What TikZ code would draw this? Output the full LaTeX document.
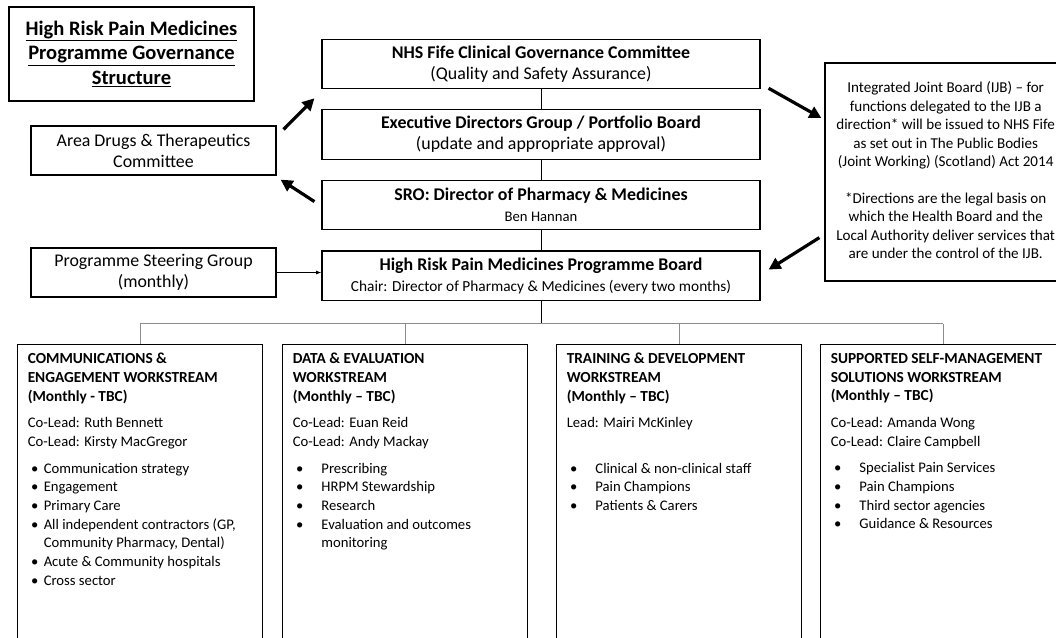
\documentclass[tikz,border=0pt]{standalone}
\usepackage{fontspec}
\setmainfont{Carlito}
\usetikzlibrary{arrows.meta,positioning,calc}

\newcommand{\bul}{\hspace*{2.5pt}\makebox[9.5pt][l]{\textbullet}}
\newcommand{\bulw}{\hspace*{2.5pt}\makebox[19pt][l]{\textbullet}}
\newcommand{\hd}[1]{{\fontsize{11.5}{14}\selectfont\bfseries #1}}

\begin{document}
\begin{tikzpicture}[
  x=0.75pt, y=-0.75pt,
  node distance=15pt,
  box/.style={draw, line width=0.9pt, align=center, inner sep=2pt,
              font=\fontsize{13.4}{15.75}\selectfont},
  mid/.style={box, minimum width=328.5pt, minimum height=37pt},
  side/.style={box, minimum width=183.75pt, minimum height=36.75pt},
  wsbox/.style={draw, line width=0.9pt, anchor=north west,
                minimum width=183.75pt, minimum height=260pt},
  wstext/.style={anchor=north west, align=left, inner sep=0pt,
                 font=\fontsize{11}{14}\selectfont},
  link/.style={line width=0.7pt},
  bus/.style={line width=0.9pt, black!45},
  big/.style={line width=2.4pt, -{Triangle[length=9pt,width=9pt]}},
  small/.style={line width=0.6pt, -{Latex[length=4pt]}}
]
\useasboundingbox (0,0) rectangle (1056,637);
\fill[white] (0,0) rectangle (1056,637);
\clip (0,0) rectangle (1056,637);

% title and side boxes
\node[box, minimum width=183.75pt, minimum height=70.5pt,
      font=\fontsize{15.4}{18.4}\selectfont\bfseries] (title) at (131.5,54)
  {\underline{High Risk Pain Medicines}\\\underline{Programme Governance}\\\underline{Structure}};
\node[side] (adtc) at (153.5,150.5) {Area Drugs \& Therapeutics\\Committee};
\node[side] (psg) at (153.5,272.5) {Programme Steering Group\\(monthly)};

% governance column
\node[mid] (nhs) at (541,64)
  {\textbf{NHS Fife Clinical Governance Committee}\\(Quality and Safety Assurance)};
\node[mid, below=of nhs] (edg)
  {\textbf{Executive Directors Group / Portfolio Board}\\(update and appropriate approval)};
\node[mid, below=of edg] (sro)
  {\textbf{SRO: Director of Pharmacy \& Medicines}\\{\fontsize{11}{14}\selectfont Ben Hannan}};
\node[mid, below=of sro] (board)
  {\textbf{High Risk Pain Medicines Programme Board}\\{\fontsize{11.5}{14}\selectfont Chair: Director of Pharmacy \& Medicines (every two months)}};

\node[box, minimum width=189pt, minimum height=163.5pt,
      font=\fontsize{11.3}{13.8}\selectfont] (ijb) at (951,172)
  {\hspace*{-8pt}\begin{tabular}{@{}c@{}}Integrated Joint Board (IJB) – for\\functions delegated to the IJB a\\direction* will be issued to NHS Fife\\as set out in The Public Bodies\\(Joint Working) (Scotland) Act 2014\\[13.8pt]*Directions are the legal basis on\\which the Health Board and the\\Local Authority deliver services that\\are under the control of the IJB.\end{tabular}};

\draw[link] (nhs) -- (edg);
\draw[link] (edg) -- (sro);
\draw[link] (sro) -- (board);
\draw[small] (psg.east) -- (psg.east -| board.west);

\draw[big] ($(adtc.north east)+(7,4)$) -- ($(nhs.south west)+(-7,9)$);
\draw[big] ($(sro.west)+(-7,-3.5)$) -- ($(adtc.south east)+(4,4)$);
\draw[big] ($(nhs.south east)+(8,-1)$) -- ($(ijb.west)+(-3,-54)$);
\draw[big] ($(ijb.south west)+(-5,-44)$) -- ($(board.east)+(8,-6)$);

% workstreams
\node[wsbox] (ws1) at (17,344) {};
\node[wsbox] (ws2) at (282,344) {};
\node[wsbox] (ws3) at (556,344) {};
\node[wsbox] (ws4) at (820,344) {};

\draw[link] (board.south) -- ++(0,23) coordinate (busc);
\draw[bus] (ws1.north |- busc) -- (ws4.north |- busc);
\foreach \w in {ws1,ws2,ws3,ws4} \draw[bus] (\w.north) -- (\w.north |- busc);

\node[wstext] (t1) at ($(ws1.north west)+(10.5,9)$)
  {\hd{COMMUNICATIONS \&}\\\hd{ENGAGEMENT WORKSTREAM}\\\hd{(Monthly - TBC)}\\[6pt]
   Co-Lead: Ruth Bennett\\Co-Lead: Kirsty MacGregor\\[6pt]
   \bul Communication strategy\\\bul Engagement\\\bul Primary Care\\
   \bul All independent contractors (GP,\\\hspace*{12pt}Community Pharmacy, Dental)\\
   \bul Acute \& Community hospitals\\\bul Cross sector};
\node[wstext] (t2) at ($(ws2.north west)+(10.5,9)$)
  {\hd{DATA \& EVALUATION}\\\hd{WORKSTREAM}\\\hd{(Monthly – TBC)}\\[6pt]
   Co-Lead: Euan Reid\\Co-Lead: Andy Mackay\\[6pt]
   \bulw Prescribing\\\bulw HRPM Stewardship\\\bulw Research\\
   \bulw Evaluation and outcomes\\\hspace*{21.5pt}monitoring};
\node[wstext] (t3) at ($(ws3.north west)+(10.5,9)$)
  {\hd{TRAINING \& DEVELOPMENT}\\\hd{WORKSTREAM}\\\hd{(Monthly – TBC)}\\[6pt]
   Lead: Mairi McKinley\\[20pt]
   \bulw Clinical \& non-clinical staff\\\bulw Pain Champions\\\bulw Patients \& Carers};
\node[wstext] (t4) at ($(ws4.north west)+(10.5,9)$)
  {\hd{SUPPORTED SELF-MANAGEMENT}\\\hd{SOLUTIONS WORKSTREAM}\\\hd{(Monthly – TBC)}\\[6pt]
   Co-Lead: Amanda Wong\\Co-Lead: Claire Campbell\\[6pt]
   \bulw Specialist Pain Services\\\bulw Pain Champions\\\bulw Third sector agencies\\\bulw Guidance \& Resources};
\end{tikzpicture}
\end{document}
